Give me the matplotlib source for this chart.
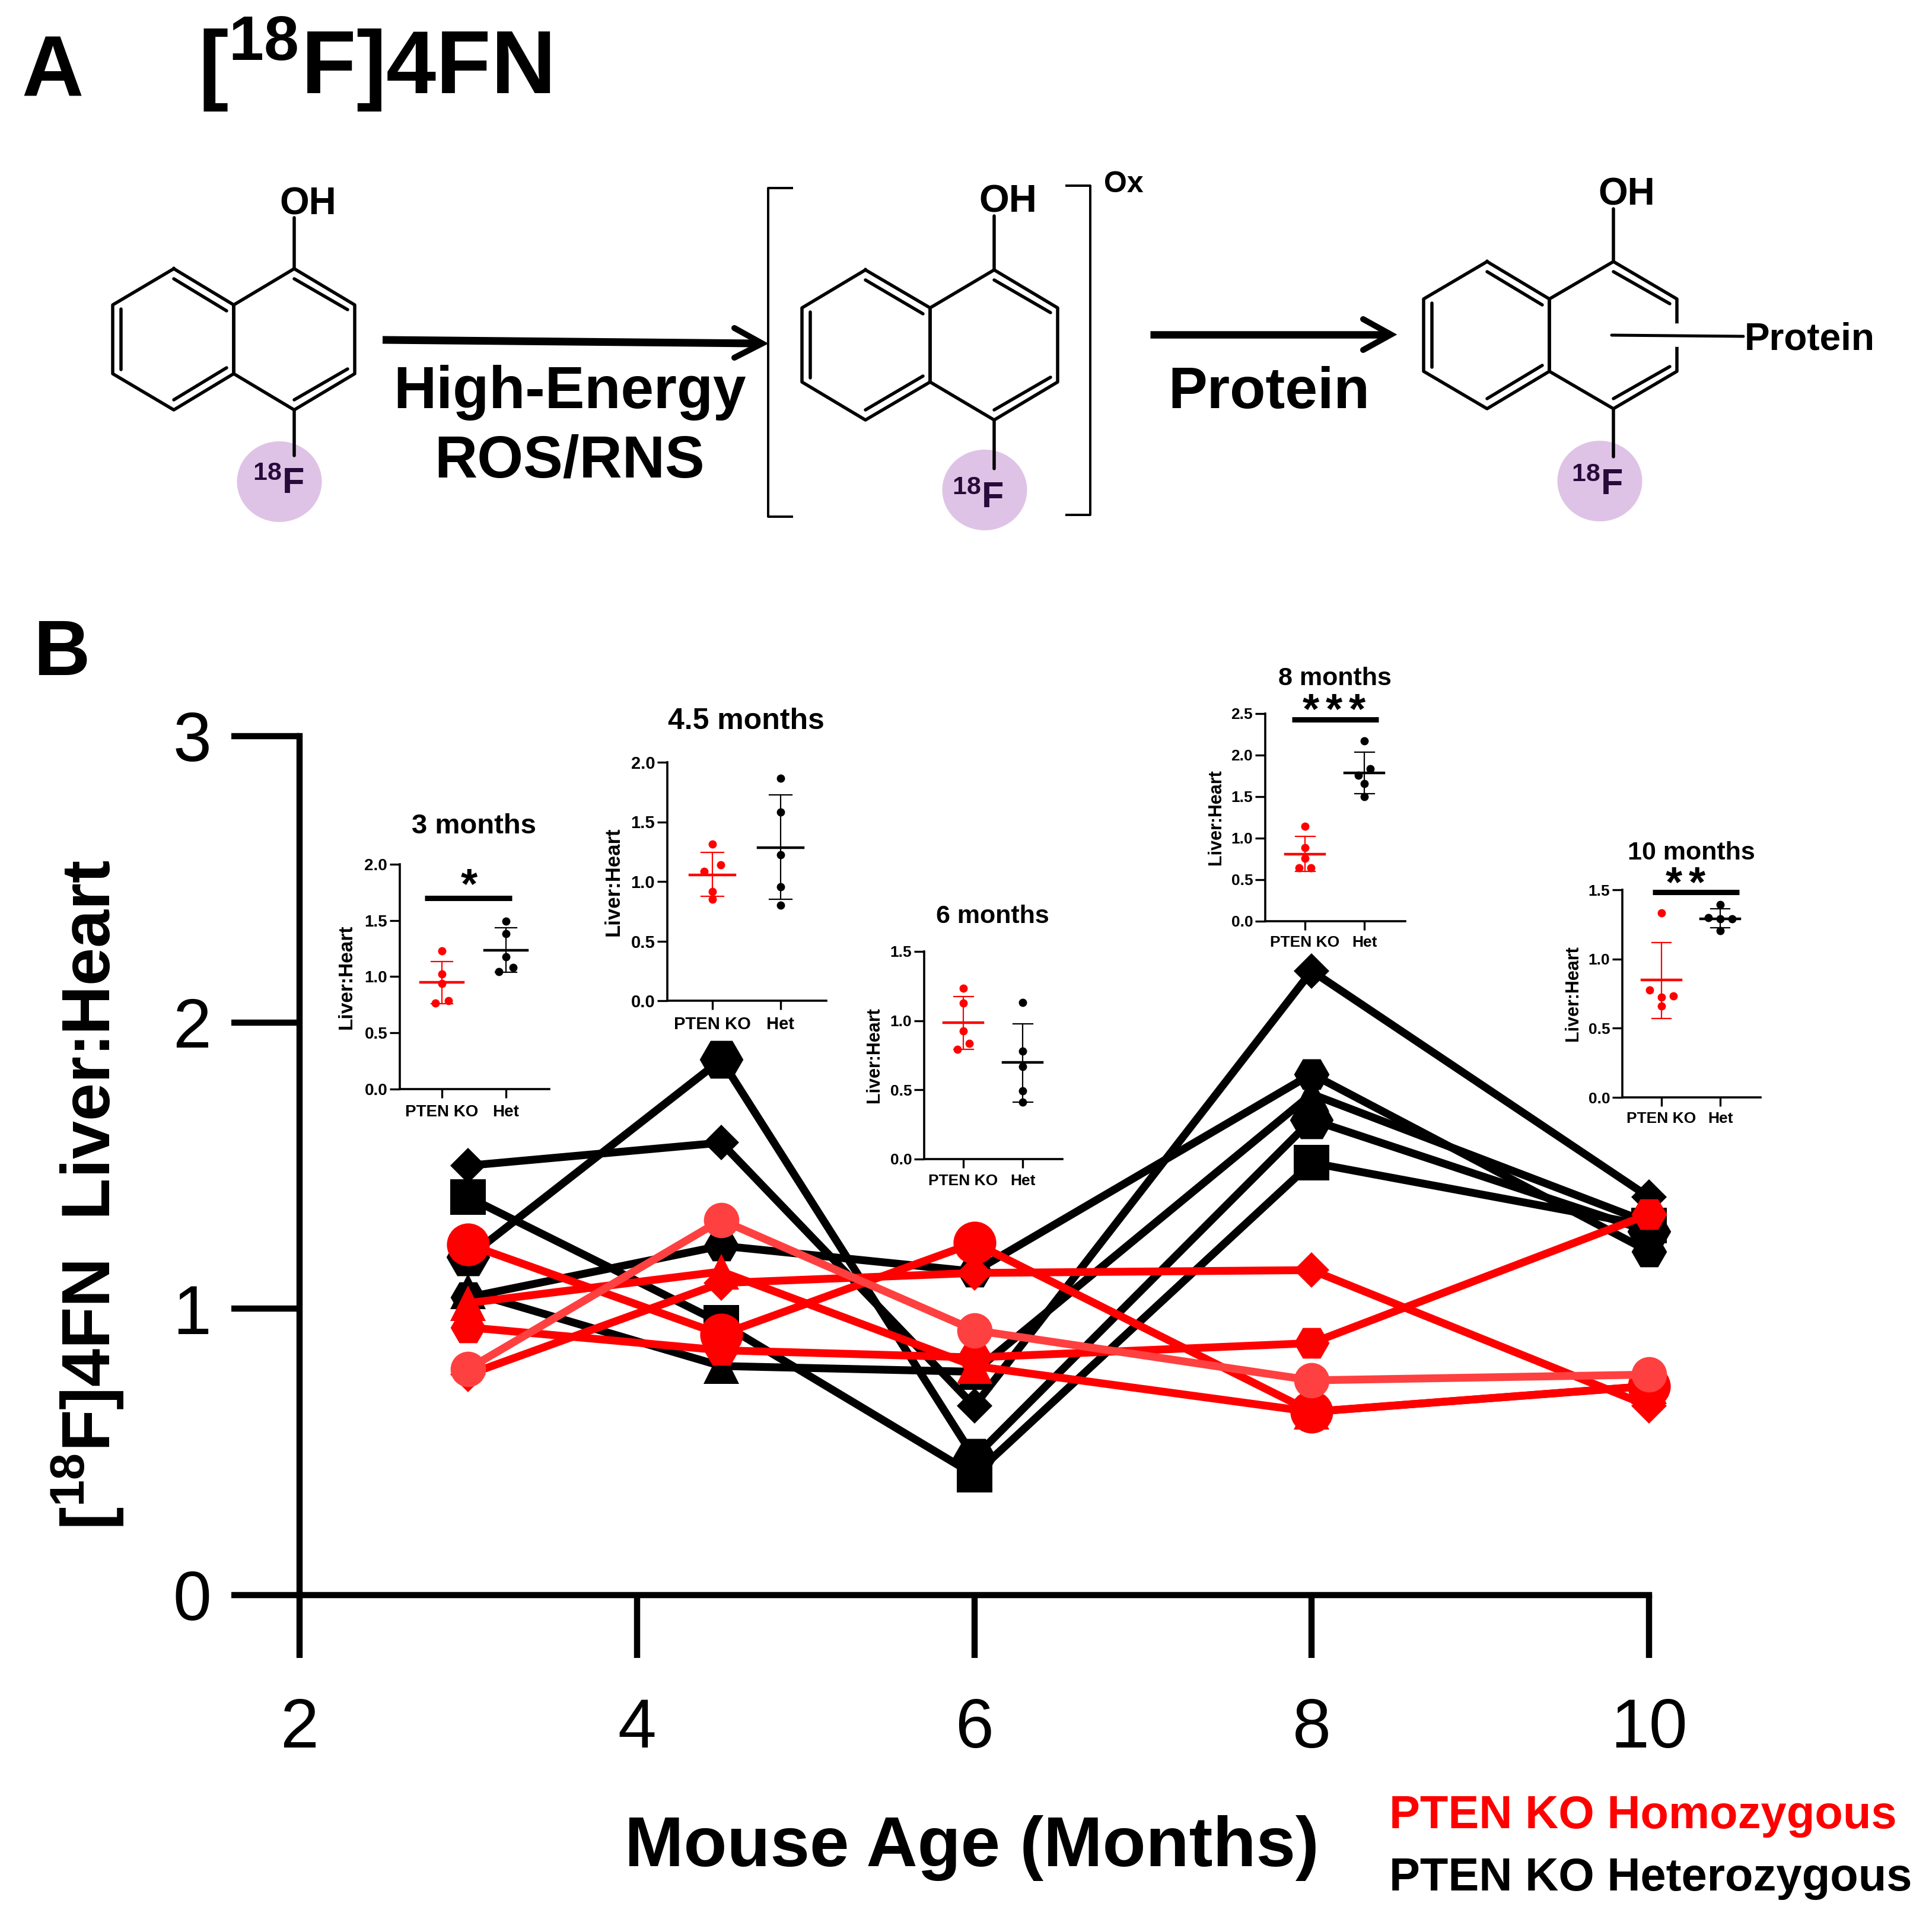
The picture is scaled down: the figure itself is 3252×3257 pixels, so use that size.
import matplotlib
matplotlib.use("Agg")
import matplotlib.pyplot as plt
from matplotlib.patches import Ellipse

plt.rcParams['font.family'] = ['Liberation Sans', 'DejaVu Sans']
plt.rcParams['mathtext.fontset'] = 'custom'
plt.rcParams['mathtext.bf'] = 'Liberation Sans:bold'
plt.rcParams['mathtext.rm'] = 'Liberation Sans:bold'
plt.rcParams['mathtext.default'] = 'bf'

W, H = 3252, 3257
PX = 0.72  # points per pixel at dpi 100

# main chart data
ages = [3, 4.5, 6, 8, 10]
het_diamond = [1.50, 1.58, 0.66, 2.18, 1.39]
het_hexagon = [1.18, 1.87, 0.48, 1.66, 1.27]
het_square = [1.39, 0.95, 0.42, 1.51, 1.29]
het_triangle = [1.06, 0.80, 0.78, 1.75, 1.30]
het_hexagon2 = [1.04, 1.22, 1.13, 1.82, 1.20]
ko_circle = [1.225, 0.91, 1.23, 0.64, 0.73]
ko_triangle = [1.02, 1.13, 0.80, 0.64, 0.73]
ko_diamond = [0.77, 1.09, 1.125, 1.135, 0.66]
ko_hexagon = [0.935, 0.855, 0.83, 0.88, 1.33]
ko_light = [0.79, 1.31, 0.925, 0.75, 0.77]
x_ticks = [2, 4, 6, 8, 10]
y_ticks = [0, 1, 2, 3]

# inset data
titles = ["3 months", "4.5 months", "6 months", "8 months", "10 months"]
ko_3 = [1.227, 1.024, 0.94, 0.788, 0.764]
het_3 = [1.494, 1.385, 1.179, 1.082, 1.045]
ko_45 = [1.314, 1.14, 1.083, 0.914, 0.849]
het_45 = [1.866, 1.583, 1.223, 0.957, 0.80]
ko_6 = [1.234, 1.129, 0.927, 0.834, 0.792]
het_6 = [1.131, 0.782, 0.669, 0.492, 0.413]
ko_8 = [1.14, 0.884, 0.754, 0.641, 0.641]
het_8 = [2.175, 1.833, 1.755, 1.655, 1.503]
ko_10 = [1.331, 0.775, 0.733, 0.725, 0.66]
het_10 = [1.393, 1.30, 1.29, 1.29, 1.206]
ko_values = [ko_3, ko_45, ko_6, ko_8, ko_10]
het_values = [het_3, het_45, het_6, het_8, het_10]
ko_mean = [0.948, 1.057, 0.984, 0.81, 0.847]
ko_upper = [1.136, 1.246, 1.173, 1.018, 1.12]
ko_lower = [0.758, 0.874, 0.792, 0.602, 0.572]
het_mean = [1.236, 1.286, 0.70, 1.789, 1.292]
het_upper = [1.433, 1.726, 0.979, 2.036, 1.362]
het_lower = [1.04, 0.849, 0.413, 1.538, 1.224]
inset_ymax = [2.0, 2.0, 1.5, 2.5, 1.5]
inset_yticks = [[0, 0.5, 1, 1.5, 2], [0, 0.5, 1, 1.5, 2], [0, 0.5, 1, 1.5],
                [0, 0.5, 1, 1.5, 2, 2.5], [0, 0.5, 1, 1.5]]
group_names = ["PTEN KO", "Het"]
ko_jitter = [[0, 0, 0, 0.1, -0.1], [0, 0.12, -0.12, 0, 0], [0, 0, 0, 0.1, -0.1],
             [0, 0, 0, 0.1, -0.1], [0, -0.2, 0.2, 0, 0]]
het_jitter = [[0, 0, 0, 0.11, -0.11], [0, 0, 0, 0, 0], [0, 0, 0, 0, 0],
              [0, 0.1, -0.1, 0, 0], [0, -0.2, 0.2, 0, 0]]

# inset layout: left, right, top, bottom, pixel of tick 0, pixel of tick 1
inset_box = [(674, 926, 1457, 1836, 745, 853),
             (1125, 1393, 1285, 1687, 1201, 1316),
             (1558, 1791, 1604, 1954, 1624, 1724),
             (2133, 2369, 1203, 1553, 2200, 2300),
             (2735, 2968, 1500, 1850, 2801, 2900)]
title_pos = [(799, 1405), (1258, 1229), (1673, 1556), (2250, 1155), (2851, 1449)]
title_size = [34, 36, 31, 31, 31]
tick_size = [20, 21, 19, 19, 19]
xtick_pad = [8, 8, 7, 6, 6]
ylab_size = [24, 25, 22, 22, 22]
ylab_x = [584, 1034, 1474, 2050, 2652]
# significance: number of stars, bar y value, bar ends in px, star y px
sig_marks = {0: (1, 1.70, 716, 863, 1476), 3: (3, 2.426, 2178, 2324, 1181),
             4: (2, 1.484, 2786, 2932, 1473)}

fig = plt.figure(figsize=(W / 100, H / 100), dpi=100)


def add_axes_px(left, right, top, bottom):
    return fig.add_axes([left / W, 1 - bottom / H, (right - left) / W, (bottom - top) / H])


# main chart
ax = add_axes_px(505, 2780, 1241, 2689)
ax.patch.set_alpha(0)
ax.set_xlim(2, 10)
ax.set_ylim(0, 3)
series = [(het_square, 's', 43, 'black'), (het_triangle, '^', 43, 'black'),
          (het_hexagon, 'H', 53, 'black'), (het_hexagon2, 'H', 43, 'black'),
          (het_diamond, 'D', 31, 'black'), (ko_circle, 'o', 52, '#ff0000'),
          (ko_triangle, '^', 43, '#ff0000'), (ko_diamond, 'D', 31, '#ff0000'),
          (ko_hexagon, 'H', 43, '#ff0000'), (ko_light, 'o', 43, '#ff4040')]
for vals, mk, ms, col in series:
    ax.plot(ages, vals, color=col, marker=mk, ms=ms, lw=9.5, mew=0, clip_on=False)
for s in ['top', 'right']:
    ax.spines[s].set_visible(False)
for s in ['left', 'bottom']:
    ax.spines[s].set_linewidth(7.5)
ax.set_xticks(x_ticks)
ax.set_yticks(y_ticks)
ax.tick_params(axis='x', length=76, width=7.5, labelsize=84, pad=48)
ax.tick_params(axis='y', length=83, width=7.5, labelsize=84, pad=24)

# insets
for i, name in enumerate(titles):
    left, right, top, bottom, t0, t1 = inset_box[i]
    unit = t1 - t0
    a = add_axes_px(left, right, top, bottom)
    a.patch.set_alpha(0)
    a.set_xlim((left - t0) / unit, (right - t0) / unit)
    a.set_ylim(0, inset_ymax[i])
    for g, (vals, jit, mean, up, low, col) in enumerate([
            (ko_values[i], ko_jitter[i], ko_mean[i], ko_upper[i], ko_lower[i], '#ff0000'),
            (het_values[i], het_jitter[i], het_mean[i], het_upper[i], het_lower[i], 'black')]):
        a.plot([g + j for j in jit], vals, 'o', color=col, ms=10, mew=0, clip_on=False)
        a.plot([g, g], [low, up], color=col, lw=1.6)
        a.plot([g - 0.165, g + 0.165], [up, up], color=col, lw=1.6)
        a.plot([g - 0.165, g + 0.165], [low, low], color=col, lw=1.6)
        a.plot([g - 0.33, g + 0.33], [mean, mean], color=col, lw=3.2)
    if i in sig_marks:
        n, bar_y, x0, x1, star_y = sig_marks[i]
        a.plot([(x0 - t0) / unit, (x1 - t0) / unit], [bar_y, bar_y], color='black',
               lw=6.5, solid_capstyle='butt', clip_on=False)
    for s in ['top', 'right']:
        a.spines[s].set_visible(False)
    for s in ['left', 'bottom']:
        a.spines[s].set_linewidth(2.6)
    a.set_xticks([0, 1])
    a.set_xticklabels(group_names)
    a.set_yticks(inset_yticks[i])
    a.set_yticklabels(["%.1f" % v for v in inset_yticks[i]])
    a.tick_params(axis='x', length=11, width=2.4, labelsize=tick_size[i], pad=xtick_pad[i])
    a.tick_params(axis='y', length=12, width=2.4, labelsize=tick_size[i], pad=3)
    for lab in a.get_xticklabels() + a.get_yticklabels():
        lab.set_fontweight('bold')

# overlay in image pixels for panel A and text
ov = fig.add_axes([0, 0, 1, 1], zorder=10)
ov.set_xlim(0, W)
ov.set_ylim(H, 0)
ov.axis('off')


def label(x, y, s, size, ha='center', color='black', rot=0, va='baseline'):
    ov.text(x, y, s, fontsize=size, ha=ha, va=va, color=color, rotation=rot,
            fontweight='bold')


for i, name in enumerate(titles):
    left, right, top, bottom, t0, t1 = inset_box[i]
    label(title_pos[i][0], title_pos[i][1], name, title_size[i])
    label(ylab_x[i], (top + bottom) / 2, "Liver:Heart", ylab_size[i], rot=90, va='center')
    if i in sig_marks:
        n, bar_y, x0, x1, star_y = sig_marks[i]
        cx = (x0 + x1) / 2 - 2 if n != 2 else 2841
        if i == 0:
            cx = 791
        for k in range(n):
            label(cx + (k - (n - 1) / 2) * 39, star_y + 38, "*", 52)

label(36, 161, "A", 104, ha='left')
label(334, 158, r"$\mathbf{[^{18}F]4FN}$", 109, ha='left')
label(56, 1138, "B", 95, ha='left')
label(148, 2014, r"$\mathbf{[^{18}F]4FN}$  Liver:Heart", 83, rot=90, va='center')
label(1638, 3146, "Mouse Age (Months)", 86)
label(2342, 3082, "PTEN KO Homozygous", 56, ha='left', color='#ff0000')
label(2342, 3187, "PTEN KO Heterozygous", 56, ha='left')


def bond(x0, y0, x1, y1, lw=5.5, color='black'):
    ov.plot([x0, x1], [y0, y1], color=color, lw=lw * PX, solid_capstyle='round')


def molecule(xs, ys, oh_top, f_bottom):
    a, b, c, d, e = xs
    t, u, l, o = ys
    ring = [(b, t), (c, u), (c, l), (b, o), (a, l), (a, u), (b, t)]
    ring2 = [(d, t), (e, u), (e, l), (d, o), (c, l), (c, u), (d, t)]
    for r in (ring, ring2):
        ov.plot([p[0] for p in r], [p[1] for p in r], color='black', lw=5.5 * PX)
    # inner lines of the double bonds
    bond(a + 14, u + 7, a + 14, l - 7)
    bond(b, t + 17, c - 12, u + 10)
    bond(b, o - 17, c - 12, l - 10)
    bond(d, t + 17, e - 12, u + 8)
    bond(d, o - 17, e - 12, l - 8)
    bond(d, oh_top, d, t)
    bond(d, o, d, f_bottom)


def arrow(x0, y0, x1, y1, hx, hy0, hy1, lw):
    ov.plot([x0, x1 - 6], [y0, y1], color='black', lw=lw * PX, solid_capstyle='butt')
    ov.plot([hx, x1, hx], [hy0, y1, hy1], color='black', lw=10 * PX,
            solid_capstyle='round', solid_joinstyle='miter')


# purple circles go below the bonds
purple = '#dfc3e6'
for cx, cy in [(471, 812), (1660, 826), (2697, 811)]:
    ov.add_patch(Ellipse((cx, cy), 143, 136, color=purple, lw=0, zorder=0))

molecule((190, 293, 394, 496, 598), (453, 514, 630, 691), 367, 768)
molecule((1352, 1459, 1568, 1676, 1783), (455, 519, 644, 708), 364, 790)
molecule((2400, 2507, 2612, 2720, 2827), (441, 504, 626, 689), 352, 770)

for x, y, size in [(519, 361, 46), (1699, 357, 47), (2742, 345, 46)]:
    label(x, y, "OH", size)
for x, y in [(513, 832), (1692, 856), (2736, 834)]:
    label(x, y, r"$\mathbf{^{18}F}$", 44, ha='right', color='#2a0a3a')

# brackets
ov.plot([1335, 1295, 1295, 1335], [317, 317, 871, 871], color='black', lw=4 * PX)
ov.plot([1798, 1838, 1838, 1798], [313, 313, 868, 868], color='black', lw=4 * PX)
label(1894, 324, "Ox", 36)

arrow(645, 573, 1285, 579, 1238, 553, 603, 13)
arrow(1939, 564, 2345, 564, 2298, 538, 590, 12.5)
label(961, 688, "High-Energy", 72)
label(960, 805, "ROS/RNS", 72)
label(2139, 688, "Protein", 71)

# bond to protein, cuts the ring edge
bond(2827, 552, 2827, 578, lw=14, color='white')
bond(2717, 565, 2939, 567, lw=5)
label(2941, 590, "Protein", 46, ha='left')

fig.savefig("out.png", dpi=100)
